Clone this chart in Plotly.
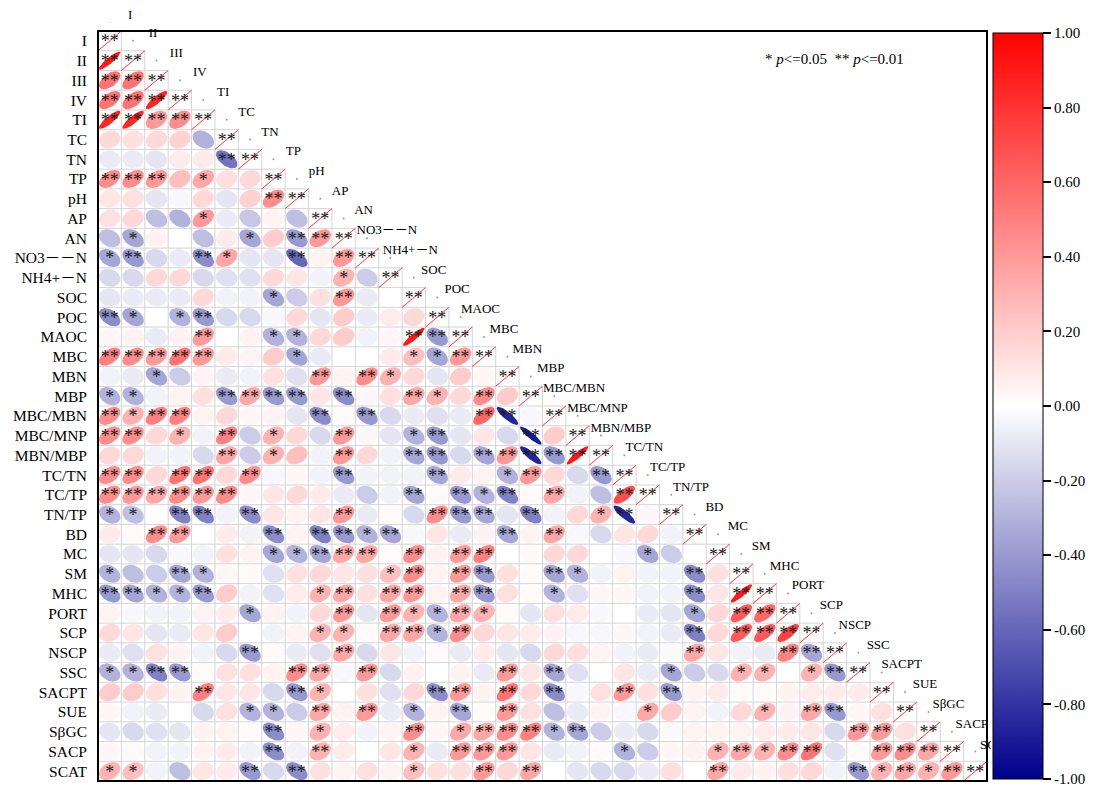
import numpy as np
import plotly.graph_objects as go

# variables, in matrix order
labels = ["I", "II", "III", "IV", "TI", "TC", "TN", "TP", "pH", "AP", "AN",
          "NO3－－N", "NH4+－N", "SOC", "POC", "MAOC", "MBC", "MBN", "MBP",
          "MBC/MBN", "MBC/MNP", "MBN/MBP", "TC/TN", "TC/TP", "TN/TP", "BD",
          "MC", "SM", "MHC", "PORT", "SCP", "NSCP", "SSC", "SACPT", "SUE",
          "SβGC", "SACP", "SCAT"]

# lower triangle correlations: row i holds columns 0..i-1 (estimated from the figure)
r_values = [
    [],
    [0.9],
    [0.55, 0.55],
    [0.55, 0.55, 0.85],
    [0.85, 0.85, 0.4, 0.45],
    [0.15, 0.12, 0.15, 0.18, -0.3],
    [-0.08, -0.08, -0.1, 0.08, 0.08, -0.55],
    [0.45, 0.45, 0.4, 0.25, 0.35, 0.12, 0.15],
    [0.1, 0.12, -0.1, -0.03, 0.15, -0.1, 0.18, 0.45],
    [0.12, 0.15, -0.25, -0.3, 0.4, -0.08, -0.22, 0.05, -0.25],
    [-0.25, -0.35, 0.05, 0, -0.25, 0.08, -0.35, 0.2, -0.4, 0.4],
    [-0.35, -0.4, -0.15, -0.08, -0.45, 0.35, -0.1, -0.1, -0.6, 0.05, 0.4],
    [-0.15, -0.15, 0.15, 0.15, -0.15, -0.12, -0.12, 0.15, 0.1, -0.05, 0.3, -0.2],
    [-0.1, -0.08, -0.08, -0.08, 0.15, -0.05, -0.05, -0.35, -0.2, 0.12, 0.4, -0.08, 0],
    [-0.45, -0.35, 0, -0.3, -0.4, -0.15, -0.15, -0.03, 0.15, -0.1, 0.2, -0.08, 0.08, 0.15],
    [0.03, 0.05, -0.08, 0.05, 0.4, 0, 0.05, -0.3, -0.3, 0.15, 0.2, -0.05, 0.03, 0.9, -0.4],
    [0.5, 0.45, 0.4, 0.55, 0.4, 0.08, 0.05, 0.2, -0.35, -0.08, 0, 0, 0.08, 0.25, -0.35, 0.4],
    [-0.05, -0.08, -0.35, -0.2, 0.05, -0.08, -0.05, 0.12, -0.12, 0.4, 0.05, 0.45, 0.3,
     0.15, -0.1, 0.2, 0.03],
    [-0.3, -0.3, -0.05, 0.05, 0.12, -0.4, 0.35, -0.4, -0.4, 0.1, -0.45, 0.03, 0.12,
     0.35, 0.3, 0.15, 0.45, 0.2],
    [0.45, 0.3, 0.5, 0.5, 0.05, 0.15, 0.03, 0.05, -0.1, -0.45, 0.02, -0.4, -0.15,
     -0.08, -0.12, -0.08, 0.6, -0.85, -0.03],
    [0.45, 0.45, 0.15, 0.3, -0.05, 0.5, -0.2, 0.3, 0.15, -0.15, 0.4, 0.03, -0.1,
     -0.3, -0.4, -0.1, 0.1, -0.15, -0.9, 0.2],
    [0.15, 0.15, -0.05, -0.05, -0.15, 0.35, -0.2, 0.3, 0.25, -0.05, 0.4, 0.15, -0.05,
     -0.35, -0.4, -0.15, -0.35, 0.4, -0.85, -0.4, 0.9],
    [0.45, 0.45, 0.15, 0.55, 0.55, 0.15, 0.45, -0.03, 0.03, -0.05, -0.4, -0.05, -0.05,
     -0.05, -0.35, 0.08, 0.05, -0.3, 0.4, 0.15, -0.15, -0.4],
    [0.45, 0.4, 0.35, 0.45, 0.4, 0.45, 0.03, 0.1, 0.15, 0.08, -0.08, -0.2, -0.05,
     -0.35, 0.02, -0.4, -0.3, -0.5, 0.02, 0.35, -0.05, -0.25, 0.7],
    [-0.3, -0.25, 0, -0.5, -0.5, -0.05, -0.45, 0.1, 0.05, 0.1, 0.4, -0.08, 0.02,
     -0.15, 0.45, -0.4, -0.35, -0.1, -0.5, -0.05, 0.15, 0.3, -0.85, 0.03],
    [0.08, 0.02, 0.45, 0.4, 0, 0.08, -0.05, -0.45, 0.05, -0.5, -0.4, -0.3, -0.35,
     -0.03, 0.1, -0.08, 0.05, -0.35, 0.05, 0.35, -0.03, -0.15, 0.1, 0.15, -0.05],
    [-0.1, -0.1, -0.15, -0.03, -0.05, 0.12, 0.05, -0.35, -0.3, -0.35, 0.35, 0.35, 0.02,
     0.45, 0.05, 0.4, 0.5, 0, 0.02, 0.15, 0.15, 0, -0.03, -0.35, -0.2, 0],
    [-0.3, -0.25, -0.2, -0.35, -0.3, 0.03, 0.02, -0.12, 0.12, 0.15, 0.1, 0.12, 0.25,
     0.45, 0.05, 0.4, -0.4, 0.12, 0.02, -0.35, -0.3, -0.05, 0.05, -0.05, -0.05, -0.45, 0.12],
    [-0.4, -0.35, -0.3, -0.3, -0.4, 0.2, -0.05, -0.12, 0.08, 0.3, 0.35, 0.12, 0.35,
     0.4, 0.05, 0.35, -0.4, 0.12, 0.02, -0.3, -0.12, 0.03, 0.03, -0.05, -0.05, -0.45,
     0.1, 0.9],
    [0.05, -0.03, -0.05, -0.05, 0.05, 0.08, -0.35, 0.05, -0.05, 0.15, 0.4, -0.1, 0.4,
     0.3, -0.3, 0.35, 0.3, 0.02, -0.1, 0.12, 0.08, -0.03, 0, -0.08, -0.1, -0.35, 0.15,
     0.65, 0.6],
    [0.15, 0.1, -0.1, -0.08, 0.1, 0.2, 0, -0.05, 0.05, 0.3, 0.3, 0.02, 0.35, 0.35,
     -0.3, 0.45, 0.15, 0.1, 0.08, 0.05, -0.03, -0.03, 0.03, -0.05, -0.08, -0.5, 0.15,
     0.65, 0.65, 0.75],
    [-0.08, -0.12, 0.12, 0.05, -0.05, -0.15, -0.4, 0.02, -0.08, -0.12, 0.35, -0.15, 0.1,
     -0.05, 0.02, -0.08, 0.08, -0.1, -0.15, 0.15, 0.12, 0.05, -0.05, -0.08, -0.02, 0.35,
     0.1, -0.05, -0.08, 0.5, -0.35],
    [-0.3, -0.3, -0.5, -0.4, 0.02, 0.12, 0.12, 0.05, 0.45, 0.35, -0.03, 0.4, -0.15,
     0.05, 0, 0.05, -0.08, 0.4, 0.1, -0.35, -0.12, 0, 0.1, -0.08, -0.35, -0.2, -0.15,
     0.3, 0.3, 0, 0.3, -0.4],
    [0.2, 0.2, 0.12, 0.05, 0.5, 0.1, 0.1, -0.15, -0.4, 0.3, 0, 0.12, -0.12, 0.15,
     -0.45, 0.4, 0.05, 0.55, 0.15, -0.45, -0.03, 0.12, 0.4, 0.12, -0.4, 0.05, 0.08,
     0.02, 0.02, 0.05, 0.08, 0.08, 0.08],
    [0.03, -0.05, -0.08, 0, -0.15, 0.12, -0.3, -0.3, -0.2, 0.35, 0.05, 0.4, -0.08,
     -0.3, 0.05, -0.35, 0.02, 0.4, 0.12, -0.25, -0.08, 0.05, -0.03, 0.35, 0.2, 0.05,
     -0.05, 0.15, 0.3, 0.05, 0.35, -0.4, 0.03, 0.12],
    [-0.1, -0.15, -0.12, -0.1, 0.05, 0.05, 0.02, -0.45, 0.03, 0.3, 0.08, -0.05, 0.05,
     0.45, 0.03, 0.35, 0.35, 0.45, 0.5, -0.3, -0.35, -0.2, -0.08, -0.15, -0.02, 0.05,
     0.05, 0.05, 0.08, 0.08, 0.1, -0.15, 0.4, 0.4, 0.12],
    [0.03, 0.02, -0.05, -0.05, 0.05, 0.08, -0.05, -0.45, -0.05, 0.3, 0.08, 0, 0.1,
     0.3, -0.08, 0.4, 0.4, 0.4, 0.1, -0.08, -0.05, 0.02, -0.3, -0.2, 0.03, 0.05, 0.3,
     0.35, 0.3, 0.45, 0.55, -0.12, 0.02, 0.4, 0.45, 0.35],
    [0.3, 0.25, -0.05, -0.25, 0.1, 0.08, -0.4, -0.15, -0.45, 0.12, 0.05, 0.12, 0.05,
     0.25, 0.12, 0.12, 0.4, 0.15, 0.35, 0, -0.1, -0.15, -0.15, -0.08, 0.12, 0, 0.35,
     0.08, 0.05, 0.12, 0.15, -0.05, -0.4, 0.3, 0.35, 0.3, 0.4],
]

# significance per lower cell: 0 none, 1 "*" (p<=0.05), 2 "**" (p<=0.01)
r_stars = [
    "",
    "2",
    "22",
    "222",
    "2222",
    "00000",
    "000002",
    "2220100",
    "00000002",
    "000010000",
    "0100001022",
    "12002100202",
    "000000000010",
    "0000000100200",
    "21012000000000",
    "000020011000022",
    "2222200010000112",
    "00100000020210000",
    "110002222020021020",
    "2122000002020000220",
    "22010201002001200020",
    "000002010020022022222",
    "2202202000" + "2000200120" + "02",
    "2222220000" + "0002021202" + "002",
    "1102202000" + "2000222020" + "0120",
    "0022000202" + "2120000202" + "00000",
    "0000000112" + "2202022000" + "000100",
    "1002100000" + "0012022002" + "1000020",
    "2211200001" + "2022022001" + "00000202",
    "0000001000" + "2021121000" + "000001022",
    "0000000001" + "1022120000" + "0000020222",
    "0000002000" + "2000000000" + "0000020002" + "2",
    "1122000022" + "0200000202" + "0000100110" + "12",
    "0000200021" + "0000220202" + "0020200000" + "000",
    "0000001102" + "0201020200" + "0001000010" + "2200",
    "0000000201" + "0002012221" + "2000000000" + "00220",
    "0000000202" + "0001022200" + "0010001212" + "200222",
    "1100002020" + "0001002020" + "0000002000" + "0021212",
]

cb_ticks = [-1.0, -0.8, -0.6, -0.4, -0.2, 0.0, 0.2, 0.4, 0.6, 0.8, 1.0]

n = len(labels)
ELL_HALF = 0.46      # ellipse half size, in cell units
STAR_DY = 0.1        # nudge so the asterisks sit in the middle of the cell
LAB_DX, LAB_DY = 0.85, -1.37   # column label offset from its diagonal cell
SERIF = "Liberation Serif, Noto Sans CJK SC"
tt = np.linspace(0, 2 * np.pi, 49)


def ellipse(r, cx, cy, s=ELL_HALF):
    d = np.arccos(np.clip(r, -1, 1))
    # y axis is reversed, so subtract to tilt positive r up-right
    return cx + s * np.cos(tt + d / 2), cy - s * np.cos(tt - d / 2)


def corr_color(r):
    a = abs(r)
    if r >= 0:
        c = (255, 255 * (1 - a), 255 * (1 - a))
    else:
        c = (255 * (1 - a), 255 * (1 - a), 255 * (1 - a) + 139 * a)
    return "rgb(%d,%d,%d)" % tuple(round(v) for v in c)


def y_to_paper(y):
    # y axis runs from n-0.5 (bottom) to -0.5 (top)
    return (n - 0.5 - y) / n


fig = go.Figure()

# light grey cell grid for the lower triangle
gx, gy = [], []
for k in range(n + 1):
    gx += [-0.5, min(k, n - 1) + 0.5, None]
    gy += [k - 0.5, k - 0.5, None]
    gx += [k - 0.5, k - 0.5, None]
    gy += [max(k - 1.5, -0.5), n - 0.5, None]
fig.add_trace(go.Scatter(x=gx, y=gy, mode="lines", line=dict(color="#d4d4d4", width=1),
                         hoverinfo="skip", showlegend=False))

# ellipses grouped by value so each group is one filled trace
groups = {}
for i in range(n):
    for j, r in enumerate(r_values[i]):
        ex, ey = ellipse(r, j, i)
        gxs, gys = groups.setdefault(r, ([], []))
        gxs += list(ex) + [None]
        gys += list(ey) + [None]
for r, (ex, ey) in sorted(groups.items()):
    if abs(r) < 0.005:
        continue
    fig.add_trace(go.Scatter(x=ex, y=ey, mode="lines", fill="toself",
                             fillcolor=corr_color(r), line=dict(width=0),
                             hoverinfo="skip", showlegend=False))

# diagonal: r = 1 collapses to a thin red line
dx, dy = [], []
for i in range(n):
    ex, ey = ellipse(1.0, i, i, s=0.5)
    dx += list(ex) + [None]
    dy += list(ey) + [None]
fig.add_trace(go.Scatter(x=dx, y=dy, mode="lines",
                         line=dict(color="rgba(255,40,40,0.75)", width=0.8),
                         hoverinfo="skip", showlegend=False))

# significance stars
sx, sy, st = [], [], []
for i in range(n):
    for j, s in enumerate(r_stars[i]):
        if s != "0":
            sx.append(j)
            sy.append(i + STAR_DY)
            st.append("*" * int(s))
    sx.append(i)
    sy.append(i + STAR_DY)
    st.append("**")
fig.add_trace(go.Scatter(x=sx, y=sy, text=st, mode="text", textposition="middle center",
                         textfont=dict(family=SERIF, size=18, color="#1a1a1a"),
                         hoverinfo="skip", showlegend=False))

# tiny tick dots above each diagonal cell
idx = np.arange(1, n)
fig.add_trace(go.Scatter(x=idx, y=idx - 1, mode="markers",
                         marker=dict(size=2, color="#999999"),
                         cliponaxis=False, hoverinfo="skip", showlegend=False))
fig.add_annotation(x=0, y=y_to_paper(-1.0), yref="paper", yanchor="middle", text="·",
                   showarrow=False, borderpad=0, font=dict(size=8, color="#999999"))

# column labels along the diagonal; the ones outside the axes become annotations
lab_font = dict(family=SERIF, size=13, color="black")
inside = [j for j in range(n) if j + LAB_DY >= -0.5 and j + LAB_DX <= n - 0.5]
fig.add_trace(go.Scatter(x=[j + LAB_DX for j in inside], y=[j + LAB_DY for j in inside],
                         text=[labels[j] for j in inside], mode="text",
                         textposition="middle center", textfont=lab_font,
                         cliponaxis=False, hoverinfo="skip", showlegend=False))
for j in range(n):
    if j in inside:
        continue
    if j + LAB_DX > n - 0.5:
        # runs under the colour bar: clip it at the bar's left edge
        fig.add_annotation(x=j + LAB_DX - 0.7, y=j + LAB_DY, text=labels[j],
                           xanchor="left", width=11, align="left", borderpad=0,
                           showarrow=False, font=lab_font)
    else:
        fig.add_annotation(x=j + LAB_DX, y=y_to_paper(j + 0.05 + LAB_DY), yref="paper",
                           xanchor="center", yanchor="middle", text=labels[j],
                           borderpad=0, showarrow=False, font=lab_font)

# colour bar (end ticks pulled in a hair so they are not dropped)
fig.add_trace(go.Scatter(
    x=[None], y=[None], mode="markers", showlegend=False, hoverinfo="skip",
    marker=dict(color=[0], cmin=-1, cmax=1,
                colorscale=[[0, "rgb(0,0,139)"], [0.5, "white"], [1, "red"]],
                showscale=True,
                colorbar=dict(x=1.0033, xanchor="left", xpad=3, y=0.5, yanchor="middle",
                              len=746, lenmode="pixels", thickness=50, ypad=0,
                              bgcolor="white", outlinecolor="black", outlinewidth=1,
                              ticks="outside", ticklen=8, tickwidth=1.5, tickcolor="black",
                              ticklabeloverflow="allow",
                              tickvals=[max(min(v, 0.9995), -0.9995) for v in cb_ticks],
                              ticktext=["%.2f" % v for v in cb_ticks],
                              tickfont=dict(family=SERIF, size=15, color="black")))))

fig.add_annotation(text="* <i>p</i>&lt;=0.05&nbsp;&nbsp;** <i>p</i>&lt;=0.01",
                   xref="paper", yref="paper", x=0.828, y=0.963,
                   xanchor="center", yanchor="middle", showarrow=False,
                   font=dict(family=SERIF, size=15, color="black"))

fig.add_shape(type="rect", xref="paper", yref="paper", x0=0, y0=0, x1=1, y1=1,
              line=dict(color="black", width=2), layer="above")

# page body adds 8px around the figure
fig.update_layout(
    width=1086, height=778,
    margin=dict(l=85, r=104, t=23, b=5),
    plot_bgcolor="white", paper_bgcolor="white",
    xaxis=dict(range=[-0.5, n - 0.5], showticklabels=False, showgrid=False,
               zeroline=False, fixedrange=True),
    yaxis=dict(range=[n - 0.5, -0.5], tickvals=list(range(n)), ticktext=labels,
               showgrid=False, zeroline=False, ticks="", ticklabelstandoff=10,
               tickfont=dict(family=SERIF, size=15.5, color="black")),
)

fig.write_html("out.html")
